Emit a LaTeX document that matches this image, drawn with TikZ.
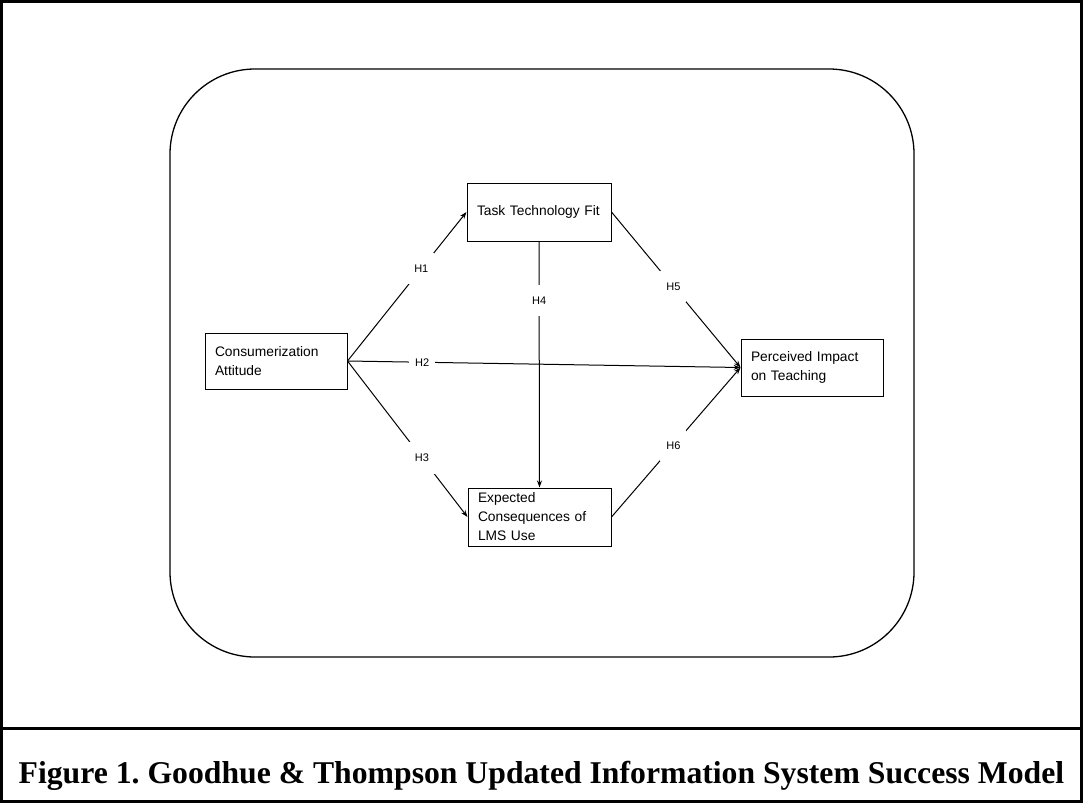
\documentclass[tikz,border=0pt]{standalone}
\usepackage{fontspec}
\setmainfont{Liberation Serif}
\setsansfont{Liberation Sans}
\usetikzlibrary{arrows.meta}

\begin{document}
\begin{tikzpicture}[x=1pt,y=-1pt,>={Stealth[length=7pt,width=5pt]},
    box/.style={draw,line width=1pt,inner xsep=10pt,inner ysep=0pt,align=left,
        font=\sffamily\fontsize{13.8}{19}\selectfont},
    hyp/.style={fill=white,inner xsep=6pt,inner ysep=12pt,
        font=\sffamily\fontsize{11}{13}\selectfont}]
\useasboundingbox (0,0) rectangle (1083,803);
\draw[line width=3pt] (1.5,1.5) rectangle (1081.5,801.5);
\draw[line width=3pt] (0,728) -- (1083,728);
\draw[line width=1.3pt,rounded corners=85pt] (170,69) rectangle (914,657);

\node[box,minimum width=142pt,minimum height=56pt,text width=122pt] (cons) at (276,361) {Consumerization\\Attitude};
\node[box,minimum width=144pt,minimum height=58pt,text width=124pt] (ttf) at (539,212) {Task Technology Fit};
\node[box,minimum width=143pt,minimum height=58pt,text width=123pt] (ecl) at (539.5,517) {Expected\\Consequences of\\LMS Use};
\node[box,minimum width=142pt,minimum height=57pt,text width=122pt] (pit) at (812,367.5) {Perceived Impact\\on Teaching};

\draw[->,line width=1pt] (cons.east) -- node[hyp,pos=0.62]{H1} (ttf.west);
\draw[->,line width=1pt] (cons.east) -- node[hyp,pos=0.19]{H2} (pit.west);
\draw[->,line width=1pt] (cons.east) -- node[hyp,pos=0.62]{H3} (ecl.west);
\draw[->,line width=1pt] (ttf.south) -- node[hyp,pos=0.24]{H4} (ecl.north);
\draw[->,line width=1pt] (ttf.east) -- node[hyp,pos=0.48]{H5} (pit.west);
\draw[->,line width=1pt] (ecl.east) -- node[hyp,pos=0.48]{H6} (pit.west);

\node[font=\bfseries\fontsize{31.7}{36}\selectfont] (cap) at (541.5,776) {\frenchspacing Figure 1. Goodhue \& Thompson Updated Information System Success Model};
\end{tikzpicture}
\end{document}
